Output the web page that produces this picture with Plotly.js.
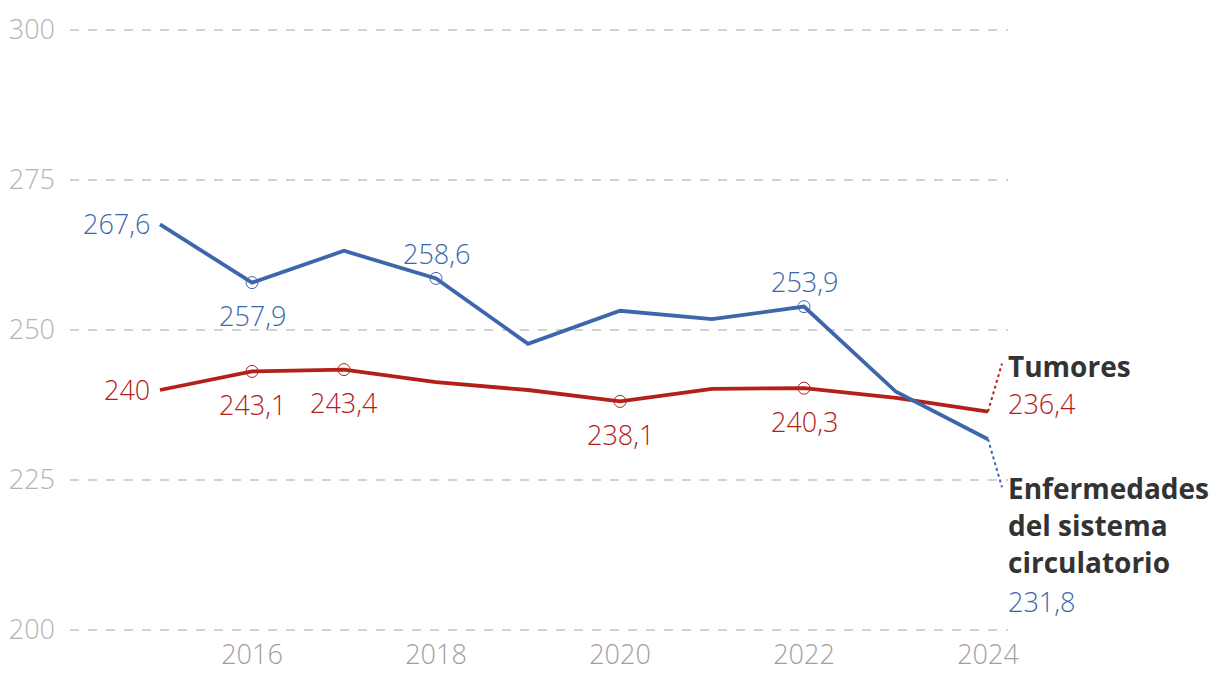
<!DOCTYPE html>
<html>
<head>
<meta charset="utf-8">
<script src="https://cdn.plot.ly/plotly-3.0.1.min.js"></script>
<style>html,body{margin:0;padding:0;background:#fff;}#chart{width:1220px;height:696px;}</style>
</head>
<body>
<div id="chart"></div>
<script>
const years = [2015, 2016, 2017, 2018, 2019, 2020, 2021, 2022, 2023, 2024];
const circulatorio = [267.6, 257.9, 263.2, 258.6, 247.7, 253.2, 251.8, 253.9, 239.7, 231.8];
const tumores = [240.0, 243.1, 243.4, 241.3, 240.0, 238.1, 240.2, 240.3, 238.7, 236.4];
const circName = ["Enfermedades", "del sistema", "circulatorio"];
const tumName = ["Tumores"];
const xTicks = [2016, 2018, 2020, 2022, 2024];
const yTicks = [200, 225, 250, 275, 300];
// labelled points: index and placement
const circLabels = [[0, "left"], [1, "below"], [3, "above"], [7, "above"]];
const tumLabels = [[0, "left"], [1, "below"], [2, "below"], [5, "below"], [7, "below"]];
const circCircles = [1, 3, 7];
const tumCircles = [1, 2, 5, 7];

const BLUE = "#3e67ab";
const RED = "#b3201a";
const FONT = "Open Sans, sans-serif";
const FS = 27;
const FSB = 28;

const fmt = v => String(Math.round(v * 10) / 10).replace(".", ",");

const traces = [
  {x: years, y: tumores, mode: "lines", line: {color: RED, width: 3.8}, hoverinfo: "skip"},
  {x: years, y: circulatorio, mode: "lines", line: {color: BLUE, width: 3.8}, hoverinfo: "skip"},
  {x: tumCircles.map(i => years[i]), y: tumCircles.map(i => tumores[i]), mode: "markers",
   marker: {symbol: "circle-open", size: 12, color: RED, line: {width: 1, color: RED}}, hoverinfo: "skip"},
  {x: circCircles.map(i => years[i]), y: circCircles.map(i => circulatorio[i]), mode: "markers",
   marker: {symbol: "circle-open", size: 12, color: BLUE, line: {width: 1, color: BLUE}}, hoverinfo: "skip"}
];

const annotations = [];
function addLabels(list, vals, color) {
  list.forEach(([i, pos]) => {
    const a = {x: years[i], y: vals[i], text: fmt(vals[i]), showarrow: false,
      font: {family: FONT, size: FS, color: color, weight: 300}, yanchor: "middle"};
    if (pos === "left") { a.xanchor = "right"; a.xshift = -8; a.yshift = 1; }
    else if (pos === "below") { a.xanchor = "center"; a.yshift = -33; }
    else { a.xanchor = "center"; a.yshift = 25; }
    annotations.push(a);
  });
}
addLabels(circLabels, circulatorio, BLUE);
addLabels(tumLabels, tumores, RED);

const last = years.length - 1;
tumName.forEach((t, k) => annotations.push({x: years[last], y: tumores[last], text: "<b>" + t + "</b>",
  showarrow: false, xanchor: "left", yanchor: "middle", xshift: 18, yshift: 46 - k * 37,
  font: {family: FONT, size: FSB, color: "#333333"}}));
annotations.push({x: years[last], y: tumores[last], text: fmt(tumores[last]), showarrow: false,
  xanchor: "left", yanchor: "middle", xshift: 18, yshift: 8, font: {family: FONT, size: FS, color: RED, weight: 300}});
circName.forEach((t, k) => annotations.push({x: years[last], y: circulatorio[last], text: "<b>" + t + "</b>",
  showarrow: false, xanchor: "left", yanchor: "middle", xshift: 18, yshift: -49 - k * 37,
  font: {family: FONT, size: FSB, color: "#333333"}}));
annotations.push({x: years[last], y: circulatorio[last], text: fmt(circulatorio[last]), showarrow: false,
  xanchor: "left", yanchor: "middle", xshift: 18, yshift: -162, font: {family: FONT, size: FS, color: BLUE, weight: 300}});

const shapes = [
  {type: "line", xref: "x", yref: "y", xsizemode: "pixel", ysizemode: "pixel",
   xanchor: years[last], yanchor: tumores[last], x0: 0, x1: 14, y0: 0, y1: 48,
   line: {color: RED, width: 2, dash: "dot"}},
  {type: "line", xref: "x", yref: "y", xsizemode: "pixel", ysizemode: "pixel",
   xanchor: years[last], yanchor: circulatorio[last], x0: 0, x1: 14, y0: 0, y1: -48,
   line: {color: BLUE, width: 2, dash: "dot"}}
];

const layout = {
  width: 1220, height: 696,
  margin: {l: 70, r: 212, t: 24, b: 60},
  paper_bgcolor: "#ffffff", plot_bgcolor: "#ffffff",
  showlegend: false,
  font: {family: FONT},
  xaxis: {range: [2015 - 90 / 92, 2024 + 20 / 92], tickvals: xTicks, ticktext: xTicks.map(String),
    showgrid: false, zeroline: false, showline: false, ticks: "",
    tickfont: {family: FONT, size: FS, color: "#a0a0a0", weight: 300}, fixedrange: true},
  yaxis: {range: [199, 301], tickvals: yTicks, ticktext: yTicks.map(String),
    showgrid: true, gridcolor: "#d2d2d2", gridwidth: 1.5, griddash: "dash", zeroline: false,
    showline: false, ticks: "", ticklabelstandoff: 14,
    tickfont: {family: FONT, size: FS, color: "#b4b4b4", weight: 300}, fixedrange: true},
  annotations: annotations,
  shapes: shapes
};

Plotly.newPlot("chart", traces, layout, {displayModeBar: false, staticPlot: true});
</script>
</body>
</html>
